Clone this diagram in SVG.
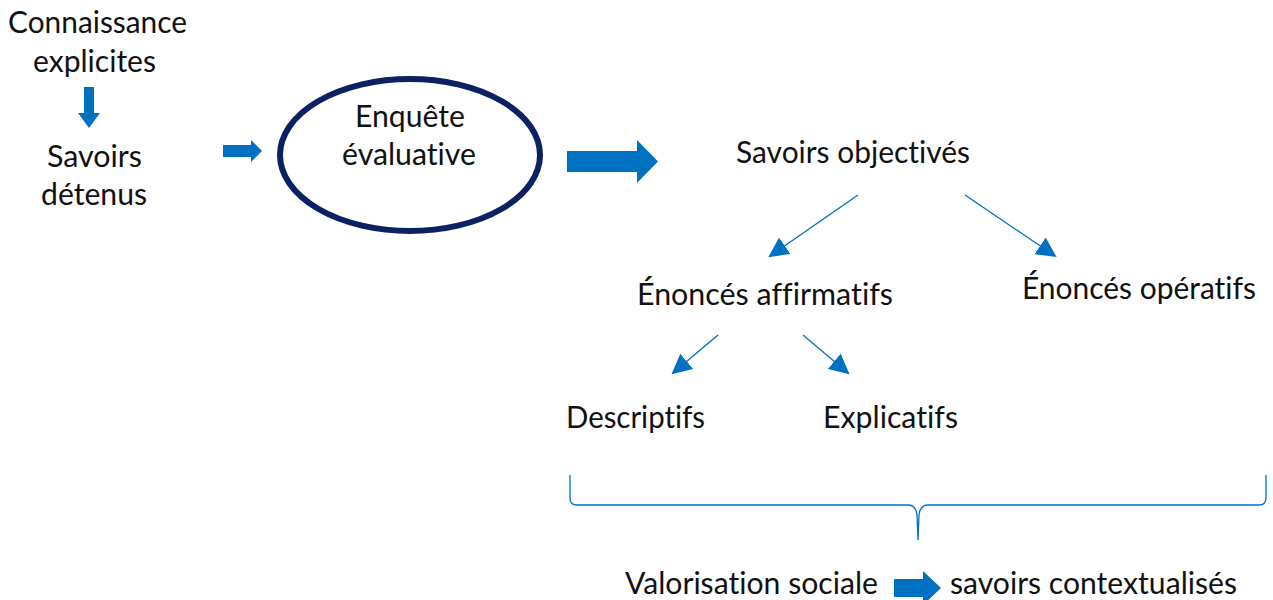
<svg xmlns="http://www.w3.org/2000/svg" width="1273" height="600" viewBox="0 0 1273 600">
<defs>
<style>
text{font-family:Lato,"Open Sans","Liberation Sans",sans-serif;font-size:31px;fill:#111;font-variant-ligatures:none;font-feature-settings:"liga" 0,"clig" 0,"dlig" 0;}
.blk{fill:#0070C0;}
.ln{stroke:#0070C0;stroke-width:1.3;fill:none;}
</style>
<marker id="ah2" viewBox="0 0 10 10" refX="9" refY="5" markerWidth="20" markerHeight="20" markerUnits="userSpaceOnUse" orient="auto">
<path d="M0,0 L10,5 L0,10 Z" fill="#0070C0"/>
</marker>
</defs>
<rect width="1273" height="600" fill="#fff"/>

<g id="n-connaissance">
<text x="8" y="33" textLength="179" lengthAdjust="spacingAndGlyphs">Connaissance</text>
<text x="33" y="72" textLength="123" lengthAdjust="spacingAndGlyphs">explicites</text>
</g>
<g id="n-savoirs-detenus">
<text x="47" y="167" textLength="95" lengthAdjust="spacingAndGlyphs">Savoirs</text>
<text x="41" y="205" textLength="106" lengthAdjust="spacingAndGlyphs">détenus</text>
</g>
<g id="n-enquete">
<ellipse cx="410" cy="155" rx="130" ry="76" fill="#fff" stroke="#0C2163" stroke-width="6"/>
<text x="355" y="127" textLength="110" lengthAdjust="spacingAndGlyphs">Enquête</text>
<text x="342" y="165" textLength="134" lengthAdjust="spacingAndGlyphs">évaluative</text>
</g>
<g id="n-savoirs-objectives">
<text x="736" y="163" textLength="234" lengthAdjust="spacingAndGlyphs">Savoirs objectivés</text>
</g>
<g id="n-affirmatifs">
<text x="637" y="305" textLength="256" lengthAdjust="spacingAndGlyphs">Énoncés affirmatifs</text>
</g>
<g id="n-operatifs">
<text x="1022" y="299" textLength="234" lengthAdjust="spacingAndGlyphs">Énoncés opératifs</text>
</g>
<g id="n-descriptifs">
<text x="566" y="428" textLength="139" lengthAdjust="spacingAndGlyphs">Descriptifs</text>
</g>
<g id="n-explicatifs">
<text x="823" y="428" textLength="135" lengthAdjust="spacingAndGlyphs">Explicatifs</text>
</g>
<g id="n-valorisation">
<text x="625" y="594" textLength="253" lengthAdjust="spacingAndGlyphs">Valorisation sociale</text>
</g>
<g id="n-contextualises">
<text x="950" y="594" textLength="287" lengthAdjust="spacingAndGlyphs">savoirs contextualisés</text>
</g>

<g id="connectors">
<path class="blk" d="M84,87 H94 V113 H100 L89,128 L78,113 H84 Z"/>
<path class="blk" d="M223,145 H251 V140 L262,151 L251,162 V157 H223 Z"/>
<path class="blk" d="M567,151 H637 V140 L658,161.5 L637,183 V172 H567 Z"/>
<path class="blk" d="M894,579 H923 V571 L941,588 L923,605 V597 H894 Z"/>
<line class="ln" x1="858" y1="195" x2="770" y2="256" marker-end="url(#ah2)"/>
<line class="ln" x1="965" y1="195" x2="1055" y2="256" marker-end="url(#ah2)"/>
<line class="ln" x1="718" y1="335" x2="673" y2="373" marker-end="url(#ah2)"/>
<line class="ln" x1="803" y1="335" x2="848" y2="373" marker-end="url(#ah2)"/>
<path class="ln" d="M570,475 V498 Q570,505 577,505 H908 Q916,505 917,515 L918,540 L919,515 Q920,505 928,505 H1259 Q1266,505 1266,498 V475"/>
</g>
</svg>
